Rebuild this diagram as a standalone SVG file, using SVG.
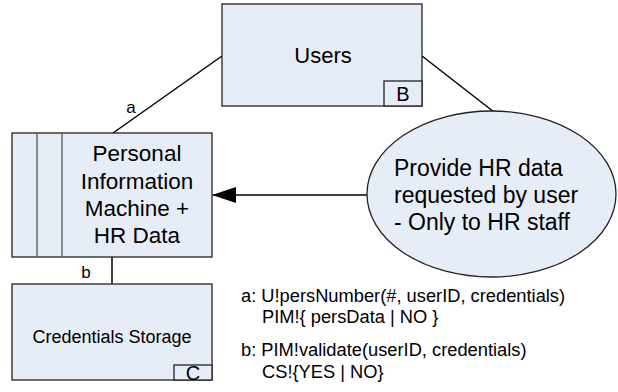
<svg xmlns="http://www.w3.org/2000/svg" width="618" height="392" viewBox="0 0 618 392">
<defs>
<style>
.box{fill:#e7edf7;stroke:#222;stroke-width:1.3}
.t{font-family:"Liberation Sans",Arial,sans-serif;fill:#000}
.ln{stroke:#000;stroke-width:1.5;fill:none}
</style>
<marker id="ah" markerWidth="24" markerHeight="16" refX="23" refY="8" orient="auto" markerUnits="userSpaceOnUse">
<path d="M0,0 L24,8 L0,16 Z" fill="#000"/>
</marker>
</defs>
<rect width="618" height="392" fill="#fff"/>
<g id="connectors">
<line class="ln" x1="113" y1="133" x2="222" y2="56"/>
<line class="ln" x1="422" y1="56" x2="494" y2="112"/>
<line class="ln" x1="367" y1="195" x2="213" y2="195" marker-end="url(#ah)"/>
<line class="ln" x1="112" y1="257" x2="112" y2="284"/>
<text class="t" x="131" y="113" font-size="17" text-anchor="middle">a</text>
<text class="t" x="86" y="278" font-size="17" text-anchor="middle">b</text>
</g>
<g id="users">
<rect class="box" x="222" y="4" width="200" height="102"/>
<rect class="box" x="384" y="81" width="38" height="25"/>
<text class="t" x="323" y="63" font-size="22" text-anchor="middle">Users</text>
<text class="t" x="403" y="101" font-size="20" text-anchor="middle">B</text>
</g>
<g id="pim">
<rect class="box" x="12" y="133" width="200" height="124"/>
<line x1="37" y1="133" x2="37" y2="257" stroke="#555" stroke-width="1.3"/>
<line x1="62" y1="133" x2="62" y2="257" stroke="#555" stroke-width="1.3"/>
<text class="t" font-size="22.5" text-anchor="middle"><tspan x="137" y="161">Personal</tspan><tspan x="137" y="189">Information</tspan><tspan x="137" y="216">Machine +</tspan><tspan x="137" y="243">HR Data</tspan></text>
</g>
<g id="credentials">
<rect class="box" x="12" y="284" width="200" height="96"/>
<rect class="box" x="174" y="365" width="38" height="15"/>
<text class="t" x="112" y="343" font-size="18" text-anchor="middle">Credentials Storage</text>
<text class="t" x="193" y="380" font-size="20" text-anchor="middle">C</text>
</g>
<g id="provide">
<ellipse class="box" cx="491.5" cy="194" rx="124.5" ry="83"/>
<text class="t" font-size="23"><tspan x="394" y="176">Provide HR data</tspan><tspan x="394" y="203">requested by user</tspan><tspan x="394" y="230">- Only to HR staff</tspan></text>
</g>
<g id="notes">
<text class="t" font-size="18.3"><tspan x="241" y="302">a: U!persNumber(#, userID, credentials)</tspan><tspan x="262" y="323">PIM!{ persData | NO }</tspan><tspan x="241" y="356">b: PIM!validate(userID, credentials)</tspan><tspan x="262" y="378">CS!{YES | NO}</tspan></text>
</g>
</svg>
